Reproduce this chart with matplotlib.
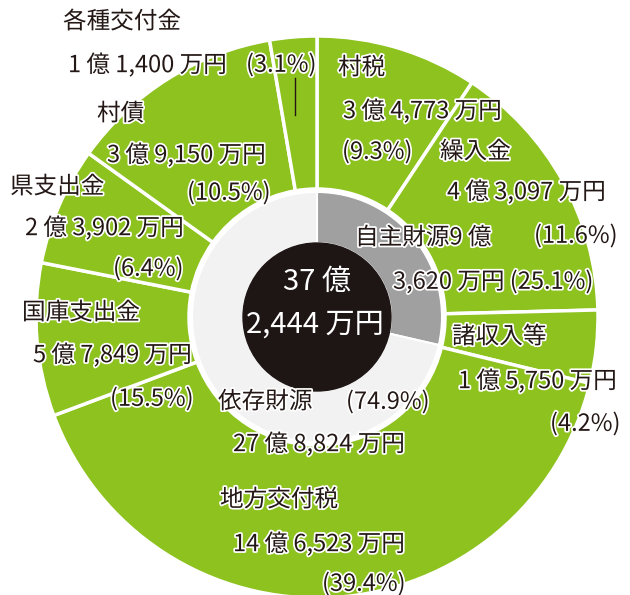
import matplotlib
matplotlib.use('Agg')
import matplotlib.pyplot as plt
import matplotlib.patheffects as pe
from matplotlib.patches import Circle

plt.rcParams['font.family'] = ['Noto Sans CJK JP', 'DejaVu Sans']

# 歳入の内訳 (時計回り、12時から)
categories = ['村税', '繰入金', '諸収入等', '地方交付税', '国庫支出金', '県支出金', '村債', '各種交付金']
amounts = ['3 億 4,773 万円', '4 億 3,097 万円', '1 億 5,750 万円', '14 億 6,523 万円',
           '5 億 7,849 万円', '2 億 3,902 万円', '3 億 9,150 万円', '1 億 1,400 万円']
shares = ['(9.3%)', '(11.6%)', '(4.2%)', '(39.4%)', '(15.5%)', '(6.4%)', '(10.5%)', '(3.1%)']
# 図に描かれている扇形の大きさ(%)  ※図の描画は表記の比率と少しずれている
drawn_sizes = [9.3, 15.3, 4.2, 40.5, 8.8, 6.8, 12.4, 2.7]

# 内側: 自主財源 / 依存財源
groups = ['自主財源', '依存財源']
group_amounts = ['9 億', '3,620 万円', '27 億 8,824 万円']
group_shares = ['(25.1%)', '(74.9%)']
group_drawn = [28.6, 71.4]

total_lines = ['37 億', '2,444 万円']

GREEN = '#8dc21f'
TXT = '#231815'

W, H = 630, 595
cx, cy = 317, H - 317


def py(y):
    # 画像の上からのピクセル位置 -> データ座標
    return H - y


fig = plt.figure(figsize=(6.3, 5.95), dpi=100)
ax = fig.add_axes([0, 0, 1, 1])

# 外側の輪
ax.pie(drawn_sizes, radius=281, center=(cx, cy), startangle=90, counterclock=False,
       colors=[GREEN] * len(drawn_sizes),
       wedgeprops=dict(width=281 - 128, edgecolor='white', linewidth=2.5))

# 内側の輪
ax.pie(group_drawn, radius=125, center=(cx, cy), startangle=90, counterclock=False,
       colors=['#a0a0a0', '#f2f2f2'],
       wedgeprops=dict(width=125 - 74, edgecolor='white', linewidth=1.5))

ax.add_patch(Circle((cx, cy), 74, color='#1e1614', zorder=3))

ax.set_xlim(0, W)
ax.set_ylim(0, H)
ax.set_aspect('equal')
ax.axis('off')

outline = [pe.withStroke(linewidth=2.5, foreground='white')]


def label(x, y, s, **kw):
    ax.text(x, py(y), s, fontsize=17, color=TXT, ha='left', va='center',
            path_effects=outline, zorder=5, **kw)


# ラベル位置 (左端x, 中心y) : 名前 / 金額 / 比率
name_pos = [(338, 68), (440, 152), (452, 337), (220, 500),
            (22, 313), (10, 187), (97, 114), (63, 22)]
amount_pos = [(343, 111), (447, 192), (458, 381), (233, 544),
              (33, 355), (25, 228), (107, 155), (68, 65)]
share_pos = [(342, 152), (534, 236), (550, 424), (322, 584),
             (110, 399), (113, 269), (187, 193), (246, 65)]

for i, cat in enumerate(categories):
    label(*name_pos[i], cat)
    label(*amount_pos[i], amounts[i])
    label(*share_pos[i], shares[i])

# 各種交付金の引き出し線
ax.plot([295, 295], [py(78), py(115)], color=TXT, lw=1, zorder=5)

# 自主財源 / 依存財源
label(355, 238, groups[0] + group_amounts[0])
label(393, 282, group_amounts[1] + ' ' + group_shares[0])
label(218, 402, groups[1])
label(346, 402, group_shares[1])
label(233, 444, group_amounts[2])

# 中央の合計
ax.text(317, py(282), total_lines[0], fontsize=21, color='white', ha='center', va='center', zorder=5)
ax.text(315, py(325), total_lines[1], fontsize=21, color='white', ha='center', va='center', zorder=5)

fig.savefig('out.png', dpi=100)
